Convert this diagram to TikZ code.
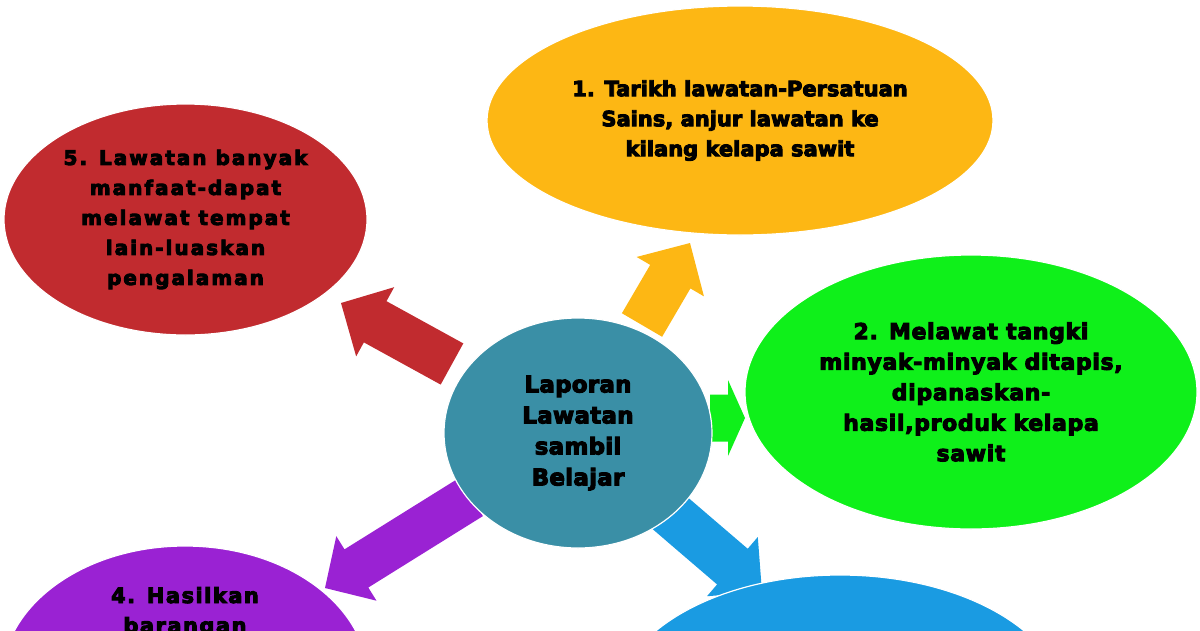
\documentclass[tikz,border=0pt]{standalone}
\usepackage{fontspec}
\setmainfont{DejaVu Sans}
\usetikzlibrary{shapes.geometric,calc}
\definecolor{cteal}{HTML}{3A8FA6}
\definecolor{corange}{HTML}{FDB714}
\definecolor{cred}{HTML}{C12B2F}
\definecolor{cgreen}{HTML}{0FF01A}
\definecolor{cpurple}{HTML}{9A22D3}
\definecolor{cblue}{HTML}{1A9BE2}
\tikzset{
  bub/.style={ellipse, inner sep=0pt, outer sep=0pt, align=center, text=black, draw=white, line width=1.2pt},
  orangetxt/.style={font=\fontsize{21}{30}\selectfont\bfseries\addfontfeatures{FakeBold=4.5}},
  redtxt/.style={font=\fontsize{20}{30}\selectfont\bfseries\addfontfeatures{LetterSpace=10,FakeBold=4.5}},
  greentxt/.style={font=\fontsize{22}{30.5}\selectfont\bfseries\addfontfeatures{LetterSpace=3,FakeBold=4.5}},
  centretxt/.style={font=\fontsize{23}{31}\selectfont\bfseries\addfontfeatures{LetterSpace=1,FakeBold=4.5}},
  purpletxt/.style={font=\fontsize{21}{30}\selectfont\bfseries\addfontfeatures{LetterSpace=7,FakeBold=4.5}},
}
% #1 colour, #2 base, #3 tip, #4 shaft half width, #5 head half width, #6 head length
\newcommand\myblockarrow[6]{%
  \coordinate (ba-j) at ($(#3)!#6!(#2)$);
  \fill[#1] ($(#2)!#4!90:(#3)$) -- ($(ba-j)!#4!90:(#3)$) -- ($(ba-j)!#5!90:(#3)$)
    -- (#3) -- ($(ba-j)!#5!-90:(#3)$) -- ($(ba-j)!#4!-90:(#3)$) -- ($(#2)!#4!-90:(#3)$) -- cycle;
}
\begin{document}
\begin{tikzpicture}[x=1pt,y=1pt]
\useasboundingbox (0,0) rectangle (1200,-630);
\clip (0,0) rectangle (1200,-630);
% arrow end points
\coordinate (a1s) at (642,-325); \coordinate (a1t) at (690,-243);
\coordinate (a2s) at (710,-418); \coordinate (a2t) at (745,-418);
\coordinate (a3s) at (667,-510.5); \coordinate (a3t) at (762,-592);
\coordinate (a4s) at (471,-497); \coordinate (a4t) at (325,-588);
\coordinate (a5s) at (452,-364); \coordinate (a5t) at (341,-303);
\myblockarrow{corange}{a1s}{a1t}{23.3pt}{39pt}{39pt}
\myblockarrow{cgreen}{a2s}{a2t}{23.5pt}{38pt}{17pt}
\myblockarrow{cblue}{a3s}{a3t}{23.5pt}{39pt}{39pt}
\myblockarrow{cpurple}{a4s}{a4t}{22.5pt}{38pt}{37pt}
\myblockarrow{cred}{a5s}{a5t}{23.5pt}{39.5pt}{39pt}
% bubbles
\node[bub, fill=cteal, minimum width=268pt, minimum height=230pt, centretxt] (centre) at (578,-433)
  {Laporan\\Lawatan\\sambil\\Belajar};
\node[bub, fill=corange, minimum width=506pt, minimum height=229pt, orangetxt] (n1) at (740,-120.5)
  {1. Tarikh lawatan-Persatuan\\Sains, anjur lawatan ke\\kilang kelapa sawit};
\node[bub, fill=cgreen, minimum width=452pt, minimum height=274pt, greentxt] (n2) at (971,-392)
  {2. Melawat tangki\\minyak-minyak ditapis,\\dipanaskan-\\hasil,produk kelapa\\sawit};
\node[bub, fill=cblue, minimum width=452pt, minimum height=266pt] (n3) at (840,-708) {};
\node[bub, fill=cpurple, minimum width=366pt, minimum height=266pt] (n4) at (185,-679) {};
\node[bub, fill=cred, minimum width=363pt, minimum height=231pt, redtxt] (n5) at (185.5,-219.5)
  {5. Lawatan banyak\\manfaat-dapat\\melawat tempat\\lain-luaskan\\pengalaman};
\node[purpletxt, align=center, anchor=base] (n4t) at (185,-603) {4. Hasilkan};
\node[purpletxt, align=center, anchor=base] (n4u) at (185,-633) {barangan};
\end{tikzpicture}
\end{document}
